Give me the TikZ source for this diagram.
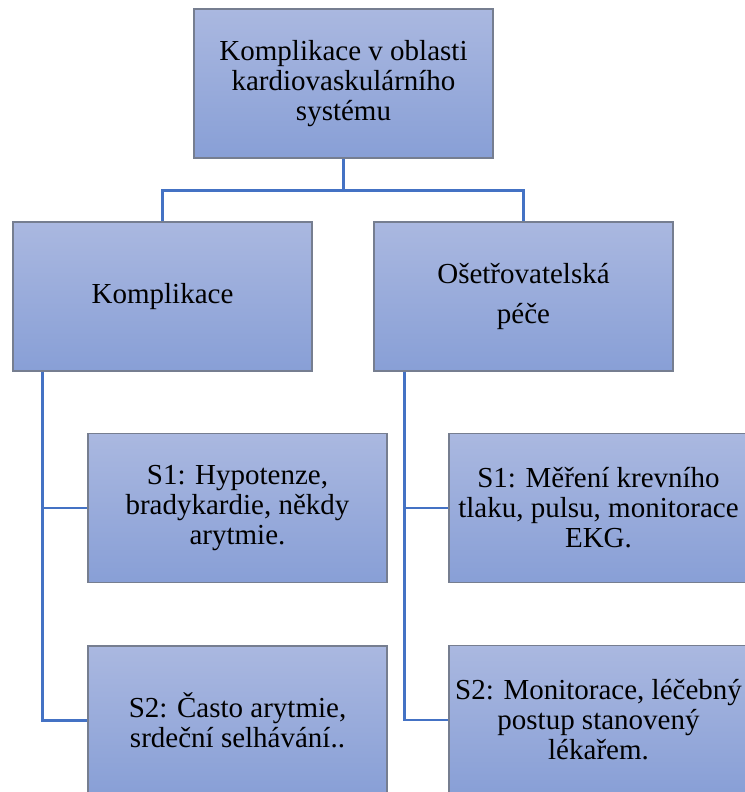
\documentclass[tikz,border=0pt]{standalone}
\usepackage{fontspec}
\setmainfont{Liberation Serif}
\usetikzlibrary{calc}
\definecolor{boxtop}{RGB}{170,184,224}
\definecolor{boxbot}{RGB}{136,159,214}
\definecolor{boxline}{RGB}{118,126,144}
\definecolor{conn}{RGB}{68,114,196}
\begin{document}
\begin{tikzpicture}[x=1pt,y=-1pt,
  box/.style={draw=boxline, line width=1.3pt, top color=boxtop, bottom color=boxbot,
    minimum width=299pt, minimum height=149pt, inner sep=0pt, align=center,
    font=\fontsize{29}{30}\selectfont},
  link/.style={draw=conn, line width=2.8pt}]
\useasboundingbox (0,0) rectangle (744,792);
\fill[white] (0,0) rectangle (744,792);
\node[box] (top) at (343.5,83.5) {Komplikace v oblasti\\kardiovaskulárního\\systému};
\node[box] (kompl) at (162.5,296.5) {Komplikace};
\node[box] (osetr) at (523.5,296.5) {Ošetřovatelská\\[10pt]péče};
\node[box] (ls1) at (237.5,508) {S1: Hypotenze,\\bradykardie, někdy\\arytmie.};
\node[box] (ls2) at (237.5,720.5) {S2: Často arytmie,\\srdeční selhávání..};
\node[box] (rs1) at (598.5,508) {S1: Měření krevního\\tlaku, pulsu, monitorace\\EKG.};
\node[box] (rs2) at (598.5,720) {S2: Monitorace, léčebný\\postup stanovený\\lékařem.};
\coordinate (split) at ($(top.south)+(0,32)$);
\draw[link] (top.south) -- (split) -| (kompl.north);
\draw[link] (split) -| (osetr.north);
\draw[link] ([xshift=30pt]kompl.south west) |- (ls1.west);
\draw[link] ([xshift=30pt]kompl.south west) |- (ls2.west);
\draw[link] ([xshift=31pt]osetr.south west) |- (rs1.west);
\draw[link] ([xshift=31pt]osetr.south west) |- (rs2.west);
\end{tikzpicture}
\end{document}
